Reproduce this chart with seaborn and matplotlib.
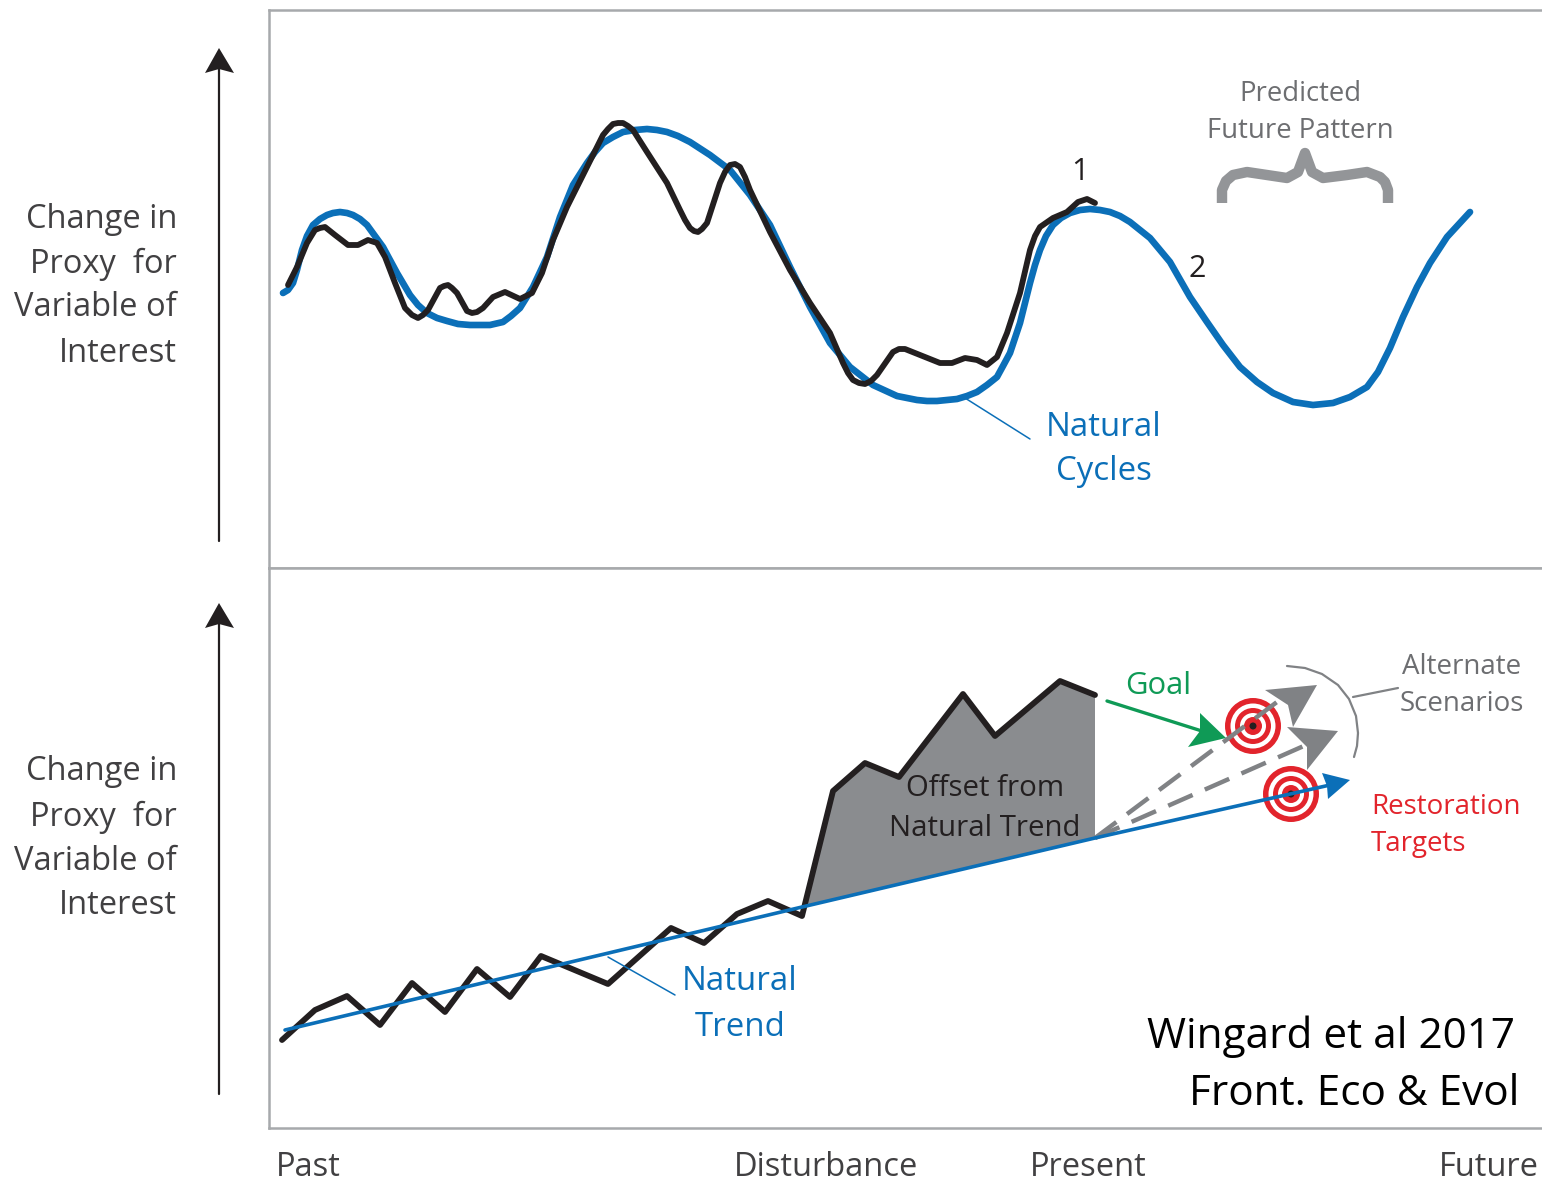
# %%
import matplotlib.pyplot as plt
import pandas as pd
import seaborn as sns
from matplotlib.patches import Circle

# both panels are read off the picture, x/y in picture units (no real scale on the chart)
cycles_x = [283, 288, 293, 297, 302, 307, 313, 320, 327, 333, 340, 347, 353, 360, 367, 383, 397, 410, 418, 427, 437,
            447, 458, 470, 490, 503, 511, 520, 533, 547, 560, 573, 587, 595, 603, 613, 623, 635, 647, 657, 667, 678,
            690, 710, 730, 750, 770, 790, 810, 830, 850, 873, 897, 917, 927, 937, 947, 957, 967, 977, 987, 997,
            1003, 1010, 1015, 1020, 1025, 1030, 1035, 1040, 1046, 1053, 1061, 1070, 1080, 1090, 1100, 1110, 1120,
            1130, 1150, 1170, 1190, 1207, 1223, 1240, 1257, 1273, 1293, 1313, 1333, 1350, 1367, 1378, 1390, 1403,
            1417, 1430, 1447, 1470]
cycles_y = [293, 290, 283, 270, 250, 236, 225, 219, 215, 213, 212, 213, 215, 219, 225, 247, 273, 295, 305, 313, 318,
            321, 324, 325, 325, 322, 316, 308, 287, 257, 217, 185, 163, 152, 143, 137, 132, 130, 129, 130, 132, 136,
            142, 155, 170, 195, 225, 267, 307, 343, 367, 385, 396, 400, 401, 401, 400, 399, 396, 392, 385, 377,
            366, 353, 338, 323, 303, 283, 265, 250, 236, 225, 218, 213, 210, 209, 210, 212, 216,
            222, 238, 262, 297, 322, 345, 367, 382, 393, 402, 405, 403, 397, 387, 372, 348, 317,
            287, 263, 237, 212]
proxy_x = [288, 297, 307, 315, 320, 325, 335, 348, 358, 368, 377, 385, 395, 405, 412, 418, 423, 428, 440, 444, 448,
           452, 457, 467, 472, 477, 483, 493, 505, 520, 532, 542, 553, 567, 587, 603, 608, 613, 618, 623, 628, 633,
           647, 667, 680, 685, 690, 694, 698, 702, 707, 720, 725, 730, 735, 740, 745, 750, 770, 790, 810, 830, 843,
           848, 853, 859, 865, 871, 877, 893, 899, 905, 920, 940, 952, 965, 977, 987, 997, 1007,
           1020, 1030, 1035, 1040, 1053, 1067, 1078, 1087, 1095]
proxy_y = [285, 267, 243, 230, 228, 227, 235, 245, 245, 240, 243, 257, 283, 308, 315, 318, 315, 310, 288, 286, 285,
           288, 293, 311, 313, 312, 308, 297, 292, 299, 293, 273, 240, 207, 167, 135, 129, 124, 123, 123, 126, 130,
           152, 183, 210, 220, 228, 231, 232, 229, 223, 183, 172, 165, 164, 167, 177, 190, 232, 270, 303, 333, 363,
           373, 380, 383, 384, 381, 375, 352, 349, 349, 355, 363, 363, 358, 360, 365, 357, 333,
           293, 250, 236, 227, 218, 212, 202, 199, 203]

trend_x = [285, 802, 1095, 1330]
trend_y = [1030, 907, 838, 785]
record_x = [282, 315, 347, 380, 412, 445, 477, 510, 541, 608, 671, 704, 737, 768, 802, 833, 865, 899, 963, 995, 1060, 1095]
record_y = [1040, 1010, 996, 1025, 983, 1012, 969, 997, 956, 984, 928, 943, 914, 901, 916, 791, 763, 777, 694, 736, 681, 695]
offset_x = [802, 833, 865, 899, 963, 995, 1060, 1095, 1095]
offset_y = [907, 791, 763, 777, 694, 736, 681, 695, 838]

brace_x = [1222, 1222, 1226, 1233, 1247, 1267, 1287, 1298, 1305, 1312, 1323, 1347, 1367, 1380, 1385, 1388, 1388]
brace_y = [203, 190, 181, 175, 172, 175, 178, 172, 153, 172, 178, 175, 172, 177, 182, 190, 203]
arc_x = [1287, 1305, 1322, 1338, 1349, 1356, 1358, 1357, 1354]
arc_y = [666, 668, 674, 685, 699, 716, 733, 746, 757]

scenario_x = [[1095, 1285], [1095, 1306]]
scenario_y = [[838, 696], [838, 745]]
target_x = [1253, 1291]
target_y = [726, 794]

BLUE = "#0b6fb8"
BLACK = "#231f20"
GREY = "#808285"
RED = "#e2242c"
GREEN = "#0f9a56"
TEXT = "#414042"
SANS = "Open Sans"

sns.set_theme(style="white")
plt.rcParams["font.family"] = [SANS, "DejaVu Sans"]

fig = plt.figure(figsize=(15.42, 11.84), dpi=100)
W, H = 1542, 1184


def panel(top, bottom):
    ax = fig.add_axes([269 / W, 1 - bottom / H, 1276 / W, (bottom - top) / H])
    ax.set_xlim(269, 1545)
    ax.set_ylim(bottom, top)
    ax.set_xticks([])
    ax.set_yticks([])
    for s in ax.spines.values():
        s.set_color("#a7a9ac")
        s.set_linewidth(1.8)
    return ax


def curve(ax, x, y, color, lw, cap="round", **kw):
    df = pd.DataFrame({"x": x, "y": y})
    sns.lineplot(data=df, x="x", y="y", ax=ax, sort=False, estimator=None, color=color, linewidth=lw,
                 solid_joinstyle="round", solid_capstyle=cap, legend=False, **kw)


def label(ax, x, y, s, color=TEXT, size=23.5, ha="center", **kw):
    ax.text(x, y + 3, s, color=color, fontsize=size, ha=ha, va="center", clip_on=False, **kw)


def head(ax, tip, barb1, notch, barb2, color):
    ax.fill([tip[0], barb1[0], notch[0], barb2[0]], [tip[1], barb1[1], notch[1], barb2[1]],
            color=color, lw=0, zorder=6, clip_on=False)


def target(ax, x, y):
    for r, c in [(28, RED), (22.5, "white"), (18, RED), (13, "white"), (9, RED), (3.5, BLACK)]:
        ax.add_patch(Circle((x, y), r, color=c, lw=0, zorder=3))


def axis_arrow(ax, top, bottom):
    ax.plot([219, 219], [top + 20, bottom], color=BLACK, lw=1.6, clip_on=False)
    head(ax, (219, top), (205, top + 25), (219, top + 21), (234, top + 25), BLACK)


# top panel
ax1 = panel(10, 568)
curve(ax1, cycles_x, cycles_y, BLUE, 4.8)
curve(ax1, proxy_x, proxy_y, BLACK, 4.2)
ax1.plot([965, 1030], [398, 439], color=BLUE, lw=1.1)
curve(ax1, brace_x, brace_y, "#939598", 7.5, cap="butt")
label(ax1, 1300, 91, "Predicted", "#6d6e71", 19.8)
label(ax1, 1300, 128, "Future Pattern", "#6d6e71", 19.8)
label(ax1, 1080, 169, "1", BLACK, 22)
label(ax1, 1197, 266, "2", BLACK, 22)
label(ax1, 1104, 424, "Natural", BLUE, 23.8)
label(ax1, 1104, 469, "Cycles", BLUE, 23.8)
axis_arrow(ax1, 48, 541)

# bottom panel
ax2 = panel(568, 1128)
ax2.fill(offset_x, offset_y, color="#8a8c8f", lw=0, zorder=1)
curve(ax2, record_x, record_y, BLACK, 4.2)
for target_cx, target_cy in zip(target_x, target_y):
    target(ax2, target_cx, target_cy)
for sx, sy in zip(scenario_x, scenario_y):
    ax2.plot(sx, sy, color=GREY, lw=3.2, linestyle=(0, (6, 3)), zorder=4)
curve(ax2, trend_x, trend_y, BLUE, 2.6, zorder=5)
head(ax2, (1350, 780), (1322, 773), (1327, 786), (1328, 799), BLUE)
head(ax2, (1317, 685), (1265, 690), (1288, 705), (1293, 727), GREY)
head(ax2, (1338, 731), (1287, 727), (1307, 747), (1307, 770), GREY)
ax2.plot([1107, 1205], [701, 732], color=GREEN, lw=2.4, zorder=4)
head(ax2, (1226, 738), (1200, 713), (1200, 731), (1188, 747), GREEN)
ax2.plot(arc_x, arc_y, color=GREY, lw=1.6)
ax2.plot([1353, 1398], [697, 688], color=GREY, lw=1.6)
ax2.plot([608, 675], [957, 995], color=BLUE, lw=1.1, zorder=2)

label(ax2, 1158, 683, "Goal", GREEN, 22.3)
label(ax2, 985, 785, "Offset from", "#231f20", 21.2, zorder=7)
label(ax2, 985, 826, "Natural Trend", "#231f20", 21.2, zorder=7)
label(ax2, 1462, 664, "Alternate", "#6d6e71", 20)
label(ax2, 1462, 701, "Scenarios", "#6d6e71", 20)
label(ax2, 1371, 804, "Restoration", RED, 20, ha="left")
label(ax2, 1371, 841, "Targets", RED, 20, ha="left")
label(ax2, 740, 979, "Natural", BLUE, 23.8)
label(ax2, 740, 1024, "Trend", BLUE, 23.8)
label(ax2, 1515, 1034, "Wingard et al 2017", "black", 30.4, ha="right")
label(ax2, 1519, 1091, "Front. Eco & Evol", "black", 30.4, ha="right")
axis_arrow(ax2, 603, 1094)

# y labels, same four lines on both panels
for offs in [0, 553]:
    for y, line in zip([216, 261, 305, 350], ["Change in", "Proxy  for", "Variable of", "Interest"]):
        label(ax1, 177, y + offs, line, ha="right")

# pulled up a bit so the descenders stay on the canvas
for x, name in zip([276, 734, 1030, 1439], ["Past", "Disturbance", "Present", "Future"]):
    label(ax2, x, 1164, name, ha="left")

fig.savefig("out.png", dpi=100)
